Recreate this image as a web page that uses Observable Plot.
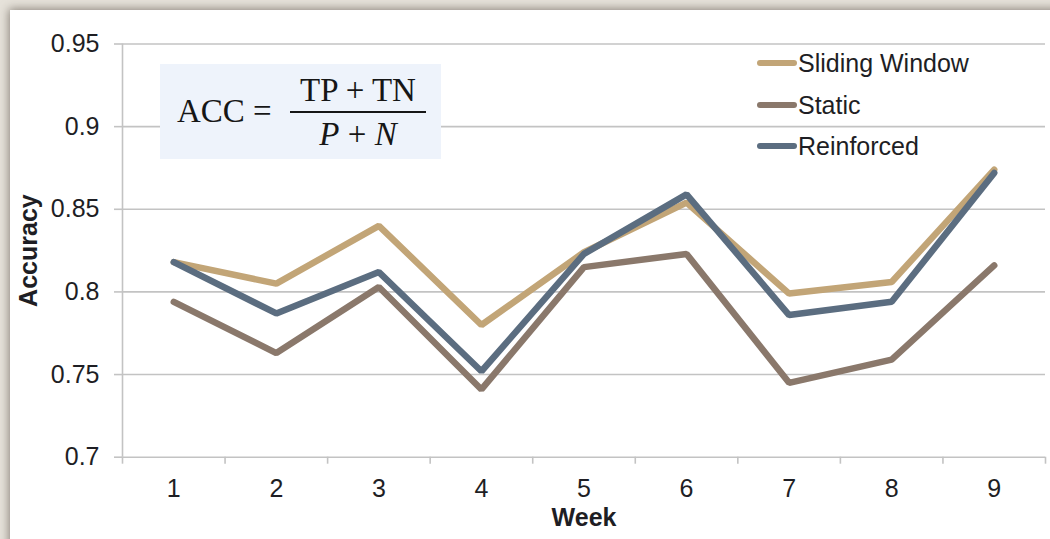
<!DOCTYPE html>
<html>
<head>
<meta charset="utf-8">
<script src="https://cdn.jsdelivr.net/npm/d3@7"></script>
<script src="https://cdn.jsdelivr.net/npm/@observablehq/plot@0.6"></script>
<style>
  html, body { margin: 0; padding: 0; }
  body {
    width: 1050px; height: 539px; overflow: hidden; position: relative;
    background: #e6e2da;
    font-family: "Liberation Sans", Arial, Helvetica, sans-serif;
  }
  #card {
    position: absolute; left: 10px; top: 10px; width: 1060px; height: 560px;
    background: #fff; box-shadow: 0 0 9px 1px rgba(60, 50, 40, 0.55);
  }
  #chart { position: absolute; left: 0; top: 0; }
  #formula {
    position: absolute; left: 160px; top: 64px; width: 281px; height: 95px;
    background: #eef3fb; color: #161616;
    font-family: "Liberation Serif", "DejaVu Serif", serif; font-size: 33px;
  }
  #formula .lhs { position: absolute; left: 17px; top: 29px; white-space: nowrap; }
  #formula .num { position: absolute; left: 130px; width: 136px; top: 8px; text-align: center; white-space: nowrap; }
  #formula .bar { position: absolute; left: 130px; width: 136px; top: 47px; height: 2px; background: #161616; }
  #formula .den { position: absolute; left: 130px; width: 136px; top: 52px; text-align: center; white-space: nowrap; }
  #legend { position: absolute; left: 757px; top: 0; }
  #legend .item { position: absolute; left: 0; height: 30px; display: flex; align-items: center; white-space: nowrap; }
  #legend .sw { width: 40px; height: 6px; border-radius: 3px; margin-right: 1px; }
  #legend .lab { font-size: 25px; color: #1e1e24; }
</style>
</head>
<body>
<div id="card"></div>
<div id="chart"></div>
<div id="formula">
  <span class="lhs">ACC =</span>
  <span class="num">TP + TN</span>
  <div class="bar"></div>
  <span class="den"><i>P</i> + <i>N</i></span>
</div>
<div id="legend"></div>
<script>
// Weekly accuracy for three training strategies
const weeks = [1, 2, 3, 4, 5, 6, 7, 8, 9];
const seriesNames = ["Sliding Window", "Static", "Reinforced"];
const seriesColors = ["#c2a577", "#8a786b", "#5b6d80"];
const slidingWindow = [0.818, 0.805, 0.840, 0.780, 0.824, 0.854, 0.799, 0.806, 0.874];
const staticModel   = [0.794, 0.763, 0.803, 0.741, 0.815, 0.823, 0.745, 0.759, 0.816];
const reinforced    = [0.818, 0.787, 0.812, 0.752, 0.823, 0.859, 0.786, 0.794, 0.872];
const yTicks = [0.7, 0.75, 0.8, 0.85, 0.9, 0.95];
const yTickLabels = ["0.7", "0.75", "0.8", "0.85", "0.9", "0.95"];

const seriesValues = [slidingWindow, staticModel, reinforced];
const rows = seriesNames.flatMap((name, i) =>
  weeks.map((w, j) => ({week: w, value: seriesValues[i][j], series: name}))
);
// category boundaries carry the small tick marks under the x axis
const boundaries = [weeks[0] - 0.5, ...weeks.map(w => w + 0.5)];

const axisColor = "#c3c3c3";
const textColor = "#1e1e24";

const chart = Plot.plot({
  width: 1050,
  height: 539,
  marginLeft: 122,
  marginRight: 5,
  marginTop: 43.5,
  marginBottom: 82.3,
  style: {background: "transparent", fontFamily: "'Liberation Sans', Arial, Helvetica, sans-serif"},
  x: {domain: [boundaries[0], boundaries[boundaries.length - 1]]},
  y: {domain: [0.7, 0.95]},
  color: {domain: seriesNames, range: seriesColors},
  marks: [
    Plot.gridY(yTicks, {stroke: axisColor, strokeOpacity: 1, strokeWidth: 1.6}),
    Plot.ruleX([boundaries[0]], {y1: 0.7, y2: 0.95, stroke: axisColor, strokeWidth: 1.6}),
    Plot.axisY({
      ticks: yTicks, tickSize: 8, tickPadding: 15, stroke: axisColor, strokeWidth: 1.6,
      fill: textColor, fontSize: 25, label: null,
      tickFormat: d => yTickLabels[yTicks.indexOf(d)]
    }),
    Plot.axisX({
      ticks: boundaries, tickSize: 7, stroke: axisColor, strokeWidth: 1.6,
      tickFormat: () => "", label: null
    }),
    Plot.axisX({
      ticks: weeks, tickSize: 0, tickPadding: 22, fill: textColor, fontSize: 25,
      tickFormat: d => String(d), label: null
    }),
    Plot.line(rows, {
      x: "week", y: "value", z: "series", stroke: "series",
      strokeWidth: 6.5, strokeLinecap: "round", strokeLinejoin: "miter"
    }),
    Plot.text(["Accuracy"], {
      frameAnchor: "left", textAnchor: "middle", dx: -94, rotate: -90,
      fontSize: 25, fontWeight: "bold", fill: textColor
    }),
    Plot.text(["Week"], {
      frameAnchor: "bottom", dy: 69, fontSize: 25, fontWeight: "bold", fill: textColor
    })
  ]
});
document.getElementById("chart").appendChild(chart);

// legend to the upper right of the plot area
const legend = document.getElementById("legend");
const legendTops = [48, 90, 131];
seriesNames.forEach((name, i) => {
  const item = document.createElement("div");
  item.className = "item";
  item.style.top = legendTops[i] + "px";
  item.innerHTML = `<div class="sw" style="background:${seriesColors[i]}"></div><span class="lab">${name}</span>`;
  legend.appendChild(item);
});
</script>
</body>
</html>
